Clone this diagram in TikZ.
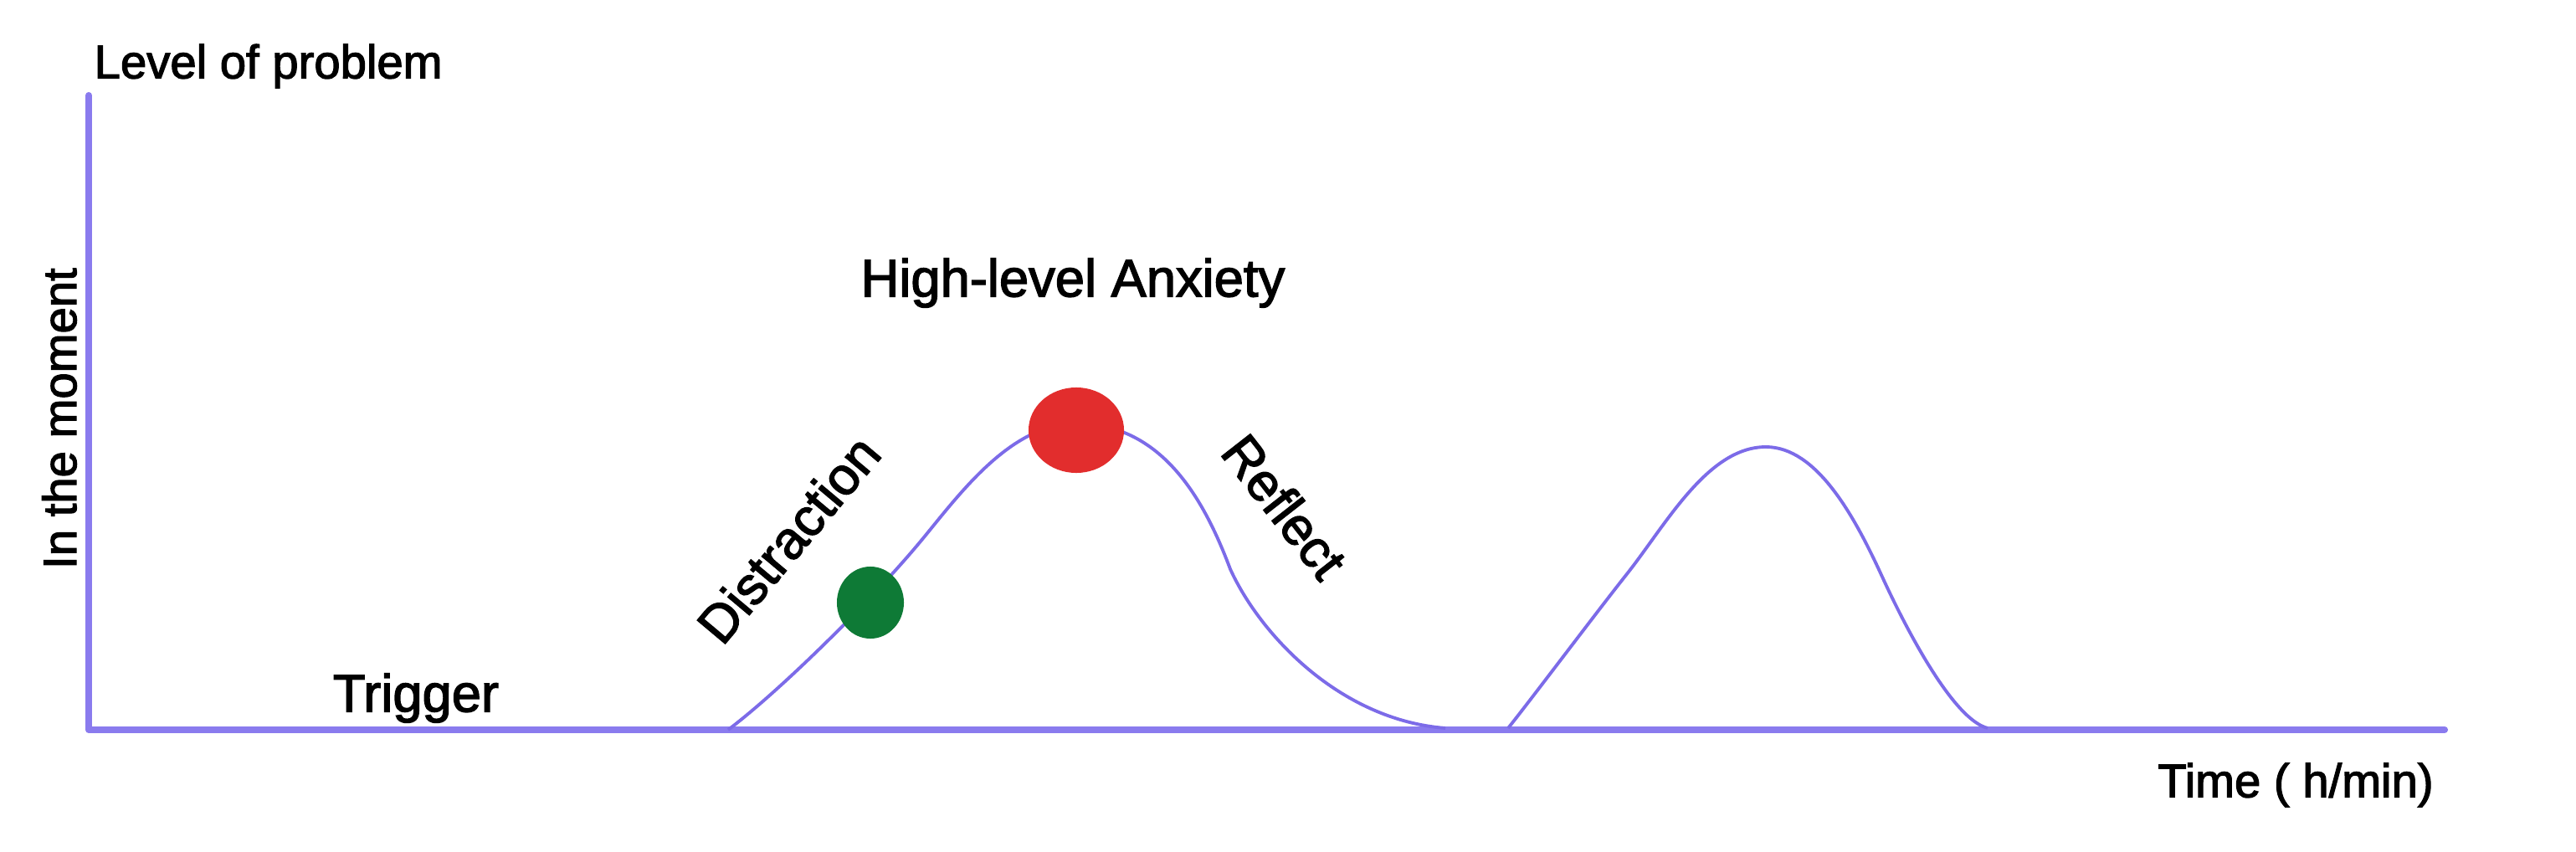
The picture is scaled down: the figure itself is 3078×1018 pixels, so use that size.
\documentclass[tikz,border=0pt]{standalone}
\usepackage{fontspec}
\setmainfont{Liberation Sans}
\newfontfamily\medfont[FakeBold=2.2]{Liberation Sans}
\usepackage{xcolor}
\usepackage{tikz}
\usetikzlibrary{calc,positioning,shapes.geometric}
\definecolor{axisx}{HTML}{8A7BEE}
\definecolor{curvex}{HTML}{7C6BE8}
\definecolor{redx}{HTML}{E22D2D}
\definecolor{greenx}{HTML}{0E7A36}
\tikzset{
  ax/.style={line width=2.3pt,axisx,line cap=round,line join=round},
  cur/.style={line width=1.1pt,curvex},
  lab/.style={font=\medfont\fontsize{16}{18}\selectfont,inner sep=0pt},
  big/.style={font=\medfont\fontsize{18}{20}\selectfont,inner sep=0pt},
  dot/.style={ellipse,inner sep=0pt,draw=none}
}
\begin{document}
\begin{tikzpicture}[x=0.01cm,y=-0.01cm]
\useasboundingbox (0,0) rectangle (3078,1018);
\coordinate (ytop) at (106,114);
\coordinate (orig) at (106,872);
\coordinate (xend) at (2921,872);
\draw[ax] (ytop)--(orig)--(xend);
% first wave
\draw[cur] (870,872) .. controls (930,827) and (1039,720) .. (1099,648)
  .. controls (1144,594) and (1206,506) .. (1286,506)
  .. controls (1390,506) and (1440,600) .. (1470,680)
  .. controls (1505,757) and (1600,860) .. (1727,870);
% second wave
\draw[cur] (1802,870) .. controls (1830,835) and (1905,735) .. (1943,687)
  .. controls (1990,628) and (2040,534) .. (2110,534)
  .. controls (2170,534) and (2215,615) .. (2248,687)
  .. controls (2280,757) and (2335,860) .. (2375,870);
\node[dot,fill=redx,minimum width=1.14cm,minimum height=1.02cm] (peak) at (1286,514) {};
\node[dot,fill=greenx,minimum width=0.8cm,minimum height=0.86cm] (calm) at (1040,720) {};
\node[lab,anchor=west] (level) at (112,79) {Level of problem};
\node[lab,rotate=90] (moment) at (71,500) {In the moment};
\node[big] (trigger) at (497,834) {Trigger};
\node[big] (anxiety) at (1282,338) {High-level Anxiety};
\node[big,rotate=50] (distract) at (942,644) {Distraction};
\node[big,rotate=-52] (reflect) at (1535,605) {Reflect};
\node[lab] (time) at (2743,938) {Time ( h/min)};
\end{tikzpicture}
\end{document}
